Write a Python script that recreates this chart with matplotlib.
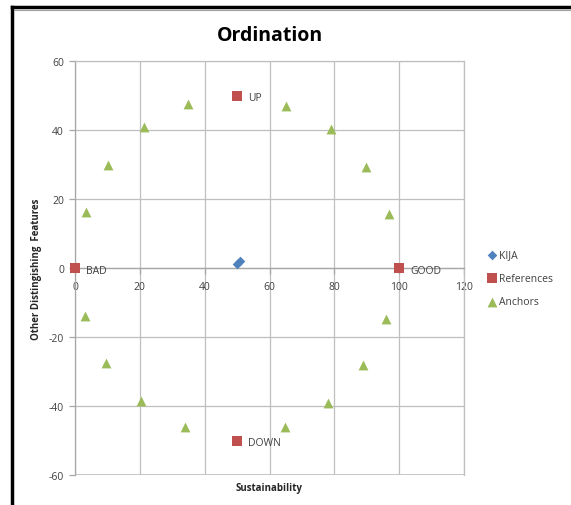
import matplotlib
matplotlib.use("Agg")
import matplotlib.pyplot as plt
from matplotlib.lines import Line2D

plt.rcParams['font.family'] = ['Open Sans', 'DejaVu Sans']
plt.rcParams['axes.unicode_minus'] = False

kua_x = [49.9, 50.9]
kua_y = [1.3, 2.0]

ref_x = [0, 100, 50, 50]
ref_y = [0, 0, 50, -50]
ref_labels = ["BAD", "GOOD", "UP", "DOWN"]

anc_x = [34.9, 65.1, 21.3, 79.0, 10.2, 89.8, 3.4, 96.9, 3.1, 96.0, 9.6, 88.9, 20.4, 78.1, 34.0, 64.8]
anc_y = [47.5, 47.0, 40.9, 40.3, 29.9, 29.3, 16.2, 15.7, -13.9, -14.8, -27.5, -28.1, -38.6, -39.1, -46.1, -46.1]

x_ticks = [0, 20, 40, 60, 80, 100, 120]
y_ticks = [-60, -40, -20, 0, 20, 40, 60]

fig = plt.figure(figsize=(5.71, 5.06), dpi=100)
ax = fig.add_axes([75/571, 1-476/506, (464-75)/571, (476-62)/506])

grid_c = '#bfbfbf'
ax.set_xlim(0, 120)
ax.set_ylim(-60, 60)
ax.set_xticks(x_ticks)
ax.set_yticks(y_ticks)
ax.grid(True, color=grid_c, linewidth=0.9)
ax.set_axisbelow(True)
for s in ['top', 'right', 'bottom']:
    ax.spines[s].set_color(grid_c)
    ax.spines[s].set_linewidth(0.9)
ax.spines['left'].set_color('#a6a6a6')
ax.spines['left'].set_linewidth(0.9)
ax.spines['bottom'].set_position(('data', 0))
ax.spines['bottom'].set_color('#a6a6a6')
ax.axhline(-60, color=grid_c, linewidth=1.2, zorder=0)

ax.tick_params(axis='both', colors='#a6a6a6', labelcolor='#404040', labelsize=7.5,
               length=4, width=0.9)
ax.tick_params(axis='x', direction='out', pad=5)
ax.tick_params(axis='y', direction='out', pad=4)

ax.scatter(kua_x, kua_y, marker='D', s=24, color='#4F81BD', label='KIJA', zorder=3, linewidths=0)
ax.scatter(ref_x, ref_y, marker='s', s=50, color='#C0504D', label='References', zorder=3, linewidths=0, clip_on=False)
ax.scatter(anc_x, anc_y, marker='^', s=50, color='#9BBB59', label='Anchors', zorder=3, linewidths=0)

for x, y, t in zip(ref_x, ref_y, ref_labels):
    ax.annotate(t, (x, y), xytext=(8, -1.5), textcoords='offset points', fontsize=7.5,
                color='#404040', va='center', ha='left')

ax.set_title('Ordination', fontsize=14, fontweight='bold', pad=15, color='black')
ax.set_xlabel('Sustainability', fontsize=7, fontweight='bold', color='#262626')
ax.xaxis.set_label_coords(0.5, -0.018)
ax.set_ylabel('Other Distingishing  Features', fontsize=7, fontweight='bold', color='#262626')
ax.yaxis.set_label_coords(-0.085, 0.5)

leg = ax.legend(loc='center left', bbox_to_anchor=(1.035, 0.475), frameon=False,
                fontsize=7.5, handletextpad=0.15, labelspacing=1.2, handlelength=1.0,
                labelcolor='#404040')

fig.add_artist(Line2D([12/571, 1], [1-8/506, 1-8/506], color='black', linewidth=2.5))
fig.add_artist(Line2D([12/571, 12/571], [0, 1-8/506], color='black', linewidth=2.5))
fig.add_artist(Line2D([14/571, 1], [1-10.5/506, 1-10.5/506], color='#a0a0a0', linewidth=0.8))

fig.savefig('out.png', dpi=100)
